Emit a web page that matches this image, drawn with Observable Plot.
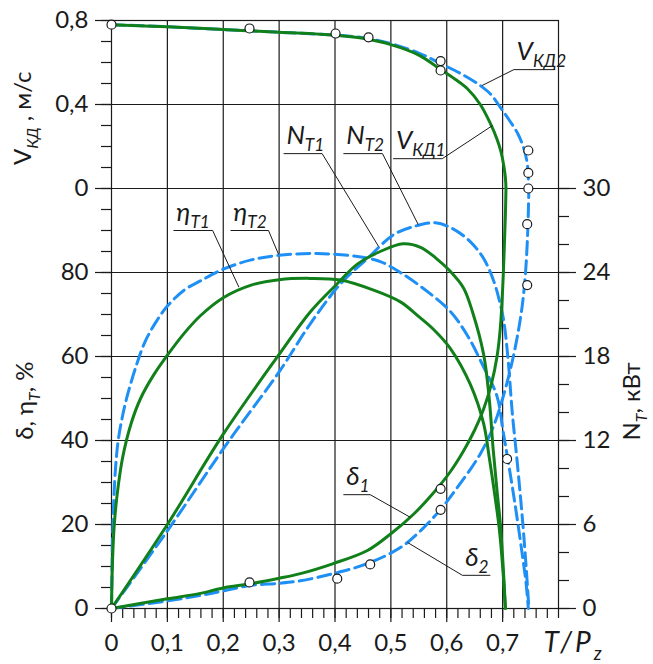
<!DOCTYPE html>
<html><head><meta charset="utf-8">
<script src="https://cdn.jsdelivr.net/npm/d3@7"></script>
<script src="https://cdn.jsdelivr.net/npm/@observablehq/plot@0.6"></script>
<style>body{margin:0;background:#fff}</style>
</head><body><div id="chart"></div>
<script>
// ---- data: [T/Pz, value] ----
// V_КД, m/s
const vKD1 = [[0,0.78],[0.1,0.77],[0.2,0.757],[0.3,0.744],[0.4,0.73],[0.45,0.715],[0.5,0.685],[0.55,0.635],[0.59,0.565],[0.615,0.52],[0.637,0.475],[0.66,0.4],[0.678,0.31],[0.69,0.235],[0.697,0.175],[0.702,0.11],[0.705,0.05],[0.706,0]];
const vKD2 = [[0,0.78],[0.1,0.77],[0.2,0.757],[0.3,0.744],[0.4,0.73],[0.45,0.718],[0.5,0.69],[0.55,0.645],[0.59,0.594],[0.63,0.54],[0.66,0.49],[0.68,0.445],[0.696,0.386],[0.712,0.325],[0.727,0.262],[0.738,0.19],[0.744,0.12],[0.746,0.05],[0.747,0]];
// δ, %
const delta1 = [[0,0],[0.1,2.3],[0.159,3.6],[0.2,4.9],[0.249,5.9],[0.3,7.2],[0.338,8.3],[0.397,10.7],[0.458,13.8],[0.5,17.8],[0.541,22.5],[0.576,27.5],[0.606,32.5],[0.63,37.5],[0.65,42.5],[0.666,47.5],[0.68,53.5],[0.69,60],[0.696,67],[0.7,76],[0.703,86],[0.705,94],[0.706,100]];
const delta2 = [[0,0],[0.1,1.8],[0.159,3.1],[0.2,4.2],[0.249,5.5],[0.3,6.0],[0.338,6.6],[0.397,8.3],[0.458,10.7],[0.517,14.5],[0.553,18.5],[0.589,23.6],[0.62,29],[0.66,36.8],[0.684,43.5],[0.7,50],[0.714,57],[0.726,64.5],[0.735,72],[0.741,80],[0.745,90],[0.747,100]];
// η_Т, %
const eta1 = [[0,0],[0.002,12],[0.005,20],[0.01,27],[0.02,36],[0.035,44],[0.052,50],[0.075,55.5],[0.1,60.3],[0.13,65.5],[0.159,69.7],[0.2,74],[0.25,77],[0.3,78.3],[0.356,78.6],[0.41,78.2],[0.469,75.8],[0.517,73],[0.55,69.5],[0.576,66.5],[0.606,62],[0.642,53.4],[0.666,44],[0.676,36],[0.686,27],[0.694,19],[0.7,10],[0.705,0]];
const eta2 = [[0,0],[0.001,10],[0.003,22],[0.007,33],[0.012,40],[0.02,46],[0.03,51.5],[0.046,58.5],[0.06,63.5],[0.08,68.3],[0.1,72],[0.13,75.8],[0.159,78],[0.2,80.8],[0.25,83],[0.3,84.1],[0.368,84.5],[0.44,83.8],[0.481,82.6],[0.517,80],[0.565,75.5],[0.606,70.8],[0.637,65],[0.666,57.5],[0.69,50.5],[0.701,42],[0.71,35],[0.722,25],[0.734,14],[0.742,6],[0.746,0]];
// N_Т, kW
const nT1 = [[0,0],[0.1,6.0],[0.2,12.45],[0.3,18.15],[0.356,21.2],[0.404,23.2],[0.44,24.6],[0.481,25.5],[0.522,26.05],[0.553,25.8],[0.58,25.05],[0.606,24.1],[0.63,22.9],[0.646,21.2],[0.666,18.15],[0.676,15.0],[0.683,11.4],[0.69,8.4],[0.696,6.0],[0.701,3.0],[0.705,0]];
const nT2 = [[0,0],[0.1,5.55],[0.2,11.4],[0.236,13.4],[0.3,16.9],[0.356,20.35],[0.41,23.2],[0.458,25.0],[0.505,26.7],[0.547,27.35],[0.58,27.55],[0.612,27.1],[0.642,26.2],[0.666,25.0],[0.684,23.4],[0.696,21.7],[0.702,20.55],[0.71,17.7],[0.717,14.1],[0.726,10.5],[0.735,6.6],[0.742,3.0],[0.747,0]];
// experimental points
const pointsV = [[0,0.78],[0.247,0.762],[0.401,0.738],[0.46,0.72],[0.589,0.607],[0.589,0.562],[0.746,0.181],[0.746,0.074],[0.746,0]];
const pointsPct = [[0,0],[0.247,6.2],[0.404,7.1],[0.463,10.5],[0.589,23.5],[0.589,28.5],[0.708,35.6],[0.744,77],[0.744,91.5]];

// ---- ticks ----
const xTicks = [0,0.1,0.2,0.3,0.4,0.5,0.6,0.7];
const xTickLabels = ["0","0,1","0,2","0,3","0,4","0,5","0,6","0,7"];
const pctTicks = [0,20,40,60,80];
const pctTickLabels = ["0","20","40","60","80"];
const vTicks = [0,0.4,0.8];
const vTickLabels = ["0","0,4","0,8"];
const nTicks = [0,6,12,18,24,30];
const nTickLabels = ["0","6","12","18","24","30"];

// ---- annotation labels ----
const annotations = [
  {label: "V_{КД2}", u1: 0.72, u2: 0.794, uy: 128.3, from: 0.72, tx: 0.663, ty: 124.5},
  {label: "V_{КД1}", u1: 0.504, u2: 0.592, uy: 107.1, from: 0.592, tx: 0.682, ty: 115},
  {label: "N_{Т1}", u1: 0.308, u2: 0.377, uy: 108.3, from: 0.377, tx: 0.478, ty: 86.2},
  {label: "N_{Т2}", u1: 0.415, u2: 0.485, uy: 108.3, from: 0.485, tx: 0.549, ty: 91.4},
  {label: "η_{Т1}", u1: 0.111, u2: 0.181, uy: 90, from: 0.181, tx: 0.228, ty: 76.5},
  {label: "η_{Т2}", u1: 0.213, u2: 0.281, uy: 90, from: 0.281, tx: 0.299, ty: 84.3},
  {label: "δ_{1}", u1: 0.415, u2: 0.463, uy: 27.1, from: 0.463, tx: 0.535, ty: 21.7},
  {label: "δ_{2}", u1: 0.628, u2: 0.678, uy: 7.9, from: 0.628, tx: 0.53, ty: 15.7}
];

// shared vertical scale: % (0..140); V_КД = 0 at 100 %, 0.4 m/s per 20 %; N_Т = 0.3 kW per %
const vToY = v => 100 + 50 * v;
const nToY = n => n / 0.3;
const key = d => Math.round(d * 1000);
const leftLabels = new Map([...pctTicks.map((t, i) => [key(t), pctTickLabels[i]]), ...vTicks.map((t, i) => [key(vToY(t)), vTickLabels[i]])]);
const rightLabels = new Map(nTicks.map((t, i) => [key(nToY(t)), nTickLabels[i]]));
const xLabels = new Map(xTicks.map((t, i) => [key(t), xTickLabels[i]]));

const pts = (arr, f = v => v) => arr.map(([x, v]) => ({x, y: f(v)}));
const blue = "#1e8ff5", green = "#11801a", ink = "#1a1a1a";
const font = "Lato, 'Open Sans', 'DejaVu Sans', sans-serif";
const blueLine = {x: "x", y: "y", curve: "catmull-rom", stroke: blue, strokeWidth: 3, strokeDasharray: "13,6"};
const greenLine = {x: "x", y: "y", curve: "catmull-rom", stroke: green, strokeWidth: 3};
const dotStyle = {x: "x", y: "y", r: 4.5, fill: "white", stroke: ink, strokeWidth: 1.2};
const gridStyle = {stroke: ink, strokeOpacity: 1, strokeWidth: 1.2};

const segs = annotations.flatMap(a => [
  {x1: a.u1, x2: a.u2, y1: a.uy, y2: a.uy},
  {x1: a.from, x2: a.tx, y1: a.uy, y2: a.ty}
]);

const chart = Plot.plot({
  width: 653, height: 664,
  marginLeft: 111, marginRight: 95, marginTop: 20, marginBottom: 56,
  x: {domain: [0, 0.8]},
  y: {domain: [0, 140]},
  style: {fontFamily: font, fontSize: "24px", color: ink, background: "white", overflow: "visible"},
  marks: [
    Plot.gridX({ticks: xTicks.slice(1), ...gridStyle}),
    Plot.gridY({ticks: [20, 40, 60, 80, 100, 120], ...gridStyle}),
    Plot.frame({stroke: ink, strokeWidth: 1.2}),
    // bottom axis
    Plot.axisX({ticks: d3.range(0, 41).map(i => i * 0.02), tickSize: 10, tickFormat: () => "", strokeWidth: 1.2, label: null}),
    Plot.axisX({ticks: xTicks, tickSize: 14, tickPadding: 11, tickFormat: d => xLabels.get(key(d)), strokeWidth: 1.2, label: null}),
    // left axis
    Plot.axisY({anchor: "left", ticks: d3.range(0, 29).map(i => i * 5), tickSize: 10, tickFormat: () => "", strokeWidth: 1.2, label: null}),
    Plot.axisY({anchor: "left", ticks: [...pctTicks, ...vTicks.map(vToY)], tickSize: 16, tickPadding: 7, tickFormat: d => leftLabels.get(key(d)), strokeWidth: 1.2, label: null}),
    // right axis
    Plot.axisY({anchor: "right", ticks: d3.range(0, 16).map(i => nToY(i * 2)), tickSize: 10, tickFormat: () => "", strokeWidth: 1.2, label: null}),
    Plot.axisY({anchor: "right", ticks: nTicks.map(nToY), tickSize: 17, tickPadding: 7, tickFormat: d => rightLabels.get(key(d)), strokeWidth: 1.2, label: null}),
    // curves (blue, dashed)
    Plot.line(pts(vKD2, vToY), blueLine),
    Plot.line(pts(delta2), blueLine),
    Plot.line(pts(eta2), blueLine),
    Plot.line(pts(nT2, nToY), blueLine),
    // curves (green, solid)
    Plot.line(pts(vKD1, vToY), greenLine),
    Plot.line(pts(delta1), greenLine),
    Plot.line(pts(eta1), greenLine),
    Plot.line(pts(nT1, nToY), greenLine),
    // points
    Plot.dot(pts(pointsV, vToY), dotStyle),
    Plot.dot(pts(pointsPct), dotStyle),
    // annotations
    Plot.link(segs, {x1: "x1", y1: "y1", x2: "x2", y2: "y2", stroke: ink, strokeWidth: 1}),
    Plot.text(annotations, {x: d => d.u1 + 0.005, y: "uy", text: "label", textAnchor: "start", lineAnchor: "middle", dy: -18, fontSize: 26, fontStyle: "italic"}),
    // axis titles
    Plot.text([{t: "V_{КД} , м/с", y: 116.7}], {text: "t", y: "y", frameAnchor: "left", textAnchor: "middle", lineAnchor: "middle", dx: -88, rotate: -90, fontSize: 24}),
    Plot.text([{t: "δ, η_{Т}, %", y: 49.5}], {text: "t", y: "y", frameAnchor: "left", textAnchor: "middle", lineAnchor: "middle", dx: -86, rotate: -90, fontSize: 24}),
    Plot.text([{t: "N_{Т}, кВт", y: 49.3}], {text: "t", y: "y", frameAnchor: "right", textAnchor: "middle", lineAnchor: "middle", dx: 74, rotate: -90, fontSize: 24}),
    Plot.text([{t: "T/P_{z}"}], {text: "t", frameAnchor: "bottom-right", textAnchor: "start", lineAnchor: "top", dx: -15, dy: 24, fontSize: 28, fontStyle: "italic"})
  ]
});
document.getElementById("chart").append(chart);

// subscripts: turn "_{...}" into real tspans
(function richText(root) {
  const ns = "http://www.w3.org/2000/svg";
  root.querySelectorAll("text").forEach(t => {
    const s = t.textContent;
    if (!s.includes("_{")) return;
    const fs = parseFloat(getComputedStyle(t).fontSize) || 24;
    const shift = Math.round(fs * 0.28);
    if (s.startsWith("T/P")) t.style.letterSpacing = "3px";
    while (t.firstChild) t.removeChild(t.firstChild);
    let cur = 0;
    s.split(/(_\{[^}]*\})/).forEach(p => {
      if (!p) return;
      const sub = p.startsWith("_{");
      const ts = document.createElementNS(ns, "tspan");
      ts.textContent = sub ? p.slice(2, -1) : p;
      const target = sub ? shift : 0;
      if (target !== cur) { ts.setAttribute("dy", target - cur); cur = target; }
      if (sub) { ts.setAttribute("font-size", (fs * 0.66).toFixed(1)); ts.setAttribute("font-style", "italic"); }
      t.appendChild(ts);
    });
  });
})(chart);
</script>
</body></html>
